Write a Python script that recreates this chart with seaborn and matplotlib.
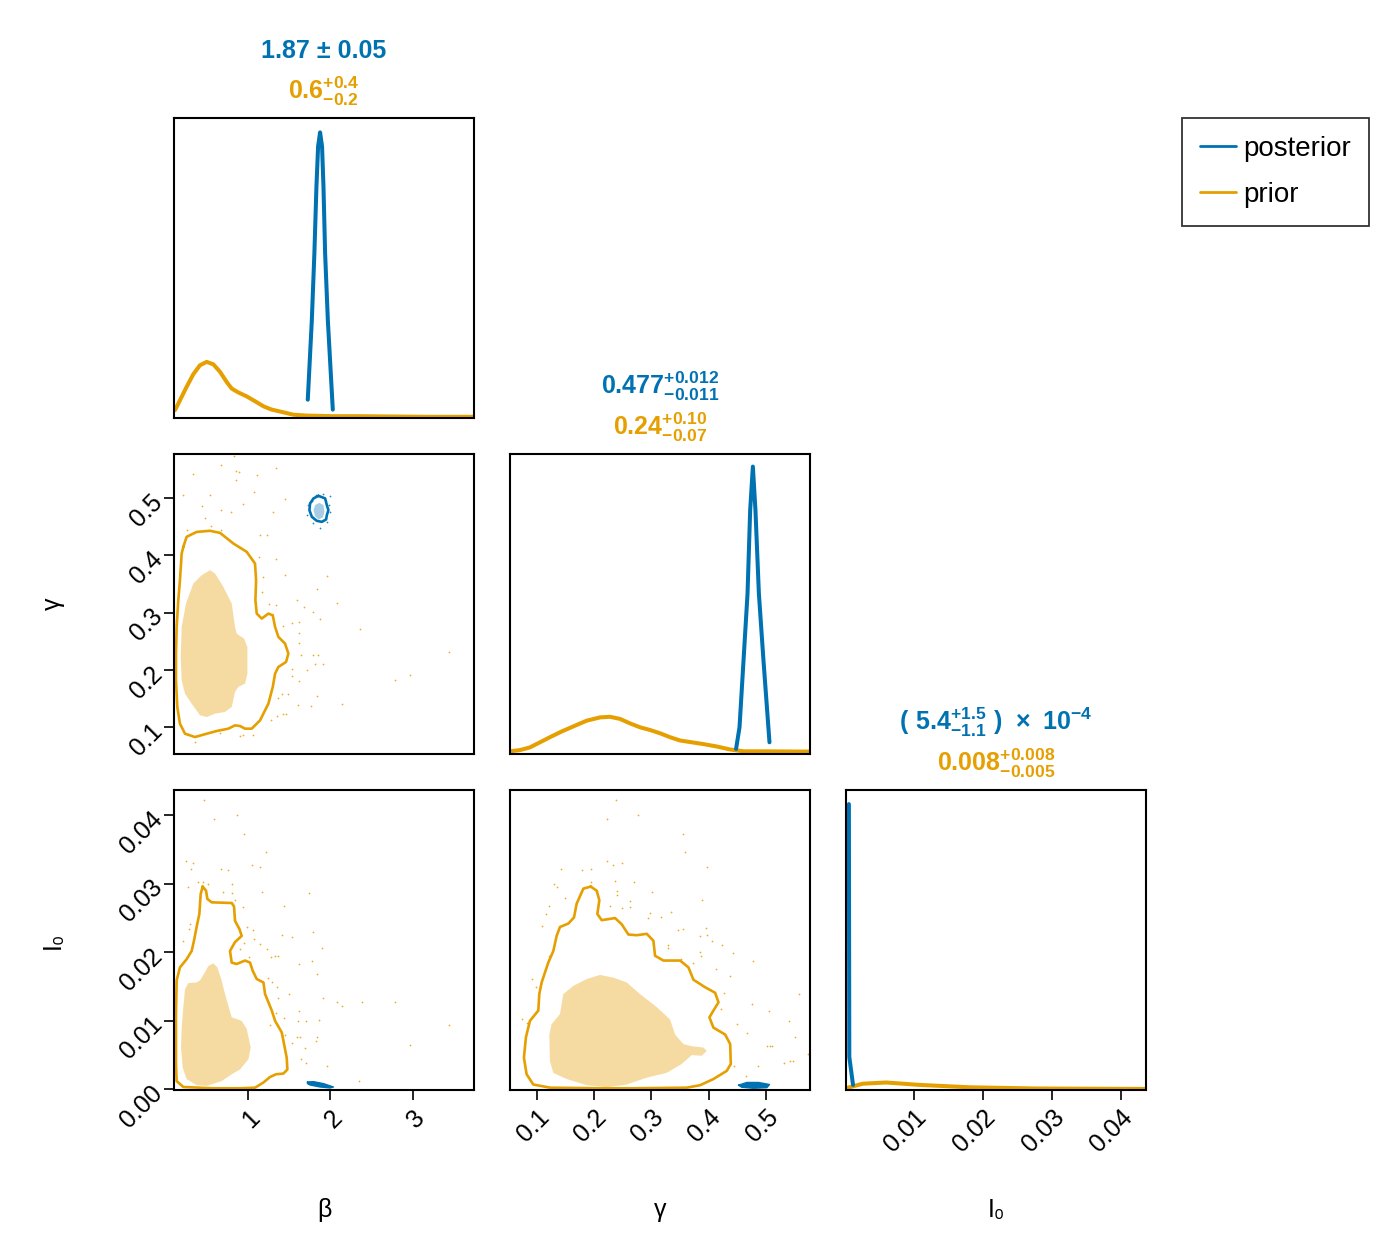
import matplotlib
matplotlib.use("Agg")
import matplotlib.pyplot as plt
from matplotlib.lines import Line2D
import seaborn as sns

BLUE = "#0072B2"
ORANGE = "#E69F00"

series_names = ["posterior", "prior"]
param_labels = ["β", "γ", "I₀"]

beta_ticks = [1, 2, 3]
gamma_ticks = [0.1, 0.2, 0.3, 0.4, 0.5]
i0_ticks_x = [0.01, 0.02, 0.03, 0.04]
i0_ticks_y = [0.00, 0.01, 0.02, 0.03, 0.04]

# --- 1D marginals (height = fraction of panel height) ---
beta_post_x = [1.727, 1.776, 1.807, 1.832, 1.852, 1.876, 1.900, 1.917, 1.937, 1.970, 2.030]
beta_post_d = [0.061, 0.326, 0.549, 0.772, 0.905, 0.952, 0.905, 0.772, 0.549, 0.326, 0.028]
beta_prior_x = [0.119, 0.179, 0.260, 0.341, 0.422, 0.503, 0.583, 0.664, 0.745, 0.806, 0.887, 0.988, 1.088, 1.190,
                1.290, 1.432, 1.553, 1.715, 2.038, 2.361, 3.169, 3.735]
beta_prior_d = [0.026, 0.059, 0.104, 0.146, 0.176, 0.187, 0.179, 0.154, 0.120, 0.098, 0.085, 0.072, 0.056, 0.039,
                0.028, 0.019, 0.011, 0.008, 0.006, 0.006, 0.004, 0.004]

gamma_post_x = [0.448, 0.454, 0.461, 0.468, 0.4726, 0.4773, 0.4818, 0.4878, 0.4958, 0.5063]
gamma_post_d = [0.017, 0.089, 0.312, 0.535, 0.813, 0.958, 0.813, 0.535, 0.312, 0.039]
gamma_prior_x = [0.0534, 0.0708, 0.0883, 0.1058, 0.1232, 0.1436, 0.1640, 0.1873, 0.2106, 0.2281, 0.2455, 0.2630,
                 0.2804, 0.2979, 0.3154, 0.3328, 0.3503, 0.3707, 0.3911, 0.4144, 0.4377, 0.4609, 0.4901, 0.5762]
gamma_prior_d = [0.009, 0.013, 0.022, 0.039, 0.056, 0.075, 0.092, 0.111, 0.122, 0.124, 0.117, 0.102, 0.089, 0.080,
                 0.069, 0.056, 0.045, 0.039, 0.033, 0.025, 0.015, 0.009, 0.009, 0.008]

i0_post_x = [0.00056, 0.00059, 0.00062, 0.00116]
i0_post_d = [0.953, 0.50, 0.11, 0.017]
i0_prior_x = [0.00016, 0.00257, 0.00597, 0.0108, 0.0181, 0.0278, 0.0437]
i0_prior_d = [0.006, 0.021, 0.025, 0.017, 0.009, 0.005, 0.0035]

# --- beta vs gamma ---
bg_prior_line_x = [0.220, 0.260, 0.381, 0.543, 0.664, 0.826, 0.987, 1.088, 1.101, 1.093, 1.109, 1.169, 1.250, 1.303,
                   1.331, 1.371, 1.452, 1.492, 1.464, 1.371, 1.331, 1.303, 1.250, 1.149, 1.048, 0.967, 0.907, 0.846,
                   0.765, 0.624, 0.503, 0.361, 0.240, 0.179, 0.147, 0.131, 0.131, 0.139, 0.159, 0.179, 0.200]
bg_prior_line_y = [0.415, 0.4325, 0.441, 0.443, 0.4394, 0.4208, 0.4063, 0.3859, 0.3568, 0.3218, 0.2985, 0.2898, 0.2985,
                   0.2956, 0.2753, 0.2578, 0.2461, 0.2287, 0.2141, 0.2054, 0.1937, 0.1705, 0.1413, 0.1122, 0.0977,
                   0.0977, 0.1023, 0.1035, 0.0977, 0.0936, 0.0889, 0.0831, 0.0889, 0.1064, 0.1355, 0.1821, 0.2287,
                   0.2753, 0.3218, 0.3568, 0.4033]
bg_prior_fill_x = [0.543, 0.604, 0.705, 0.806, 0.846, 0.866, 0.955, 0.996, 0.996, 0.967, 0.886, 0.846, 0.806, 0.725,
                   0.604, 0.503, 0.422, 0.321, 0.240, 0.200, 0.188, 0.200, 0.252, 0.341, 0.442]
bg_prior_fill_y = [0.3742, 0.3684, 0.3451, 0.316, 0.2753, 0.2636, 0.2549, 0.2403, 0.1937, 0.1763, 0.1705, 0.1617,
                   0.1355, 0.1268, 0.1239, 0.118, 0.121, 0.1413, 0.1588, 0.1821, 0.2229, 0.2753, 0.316, 0.3509, 0.3655]
bg_post_line_x = [1.856, 1.937, 1.958, 1.977, 1.958, 1.949, 1.897, 1.836, 1.776, 1.747, 1.755, 1.796]
bg_post_line_y = [0.504, 0.4995, 0.4878, 0.479, 0.4703, 0.4628, 0.4586, 0.4604, 0.4674, 0.479, 0.4907, 0.4995]
bg_post_fill_x = [1.868, 1.917, 1.929, 1.909, 1.856, 1.816, 1.796, 1.816]
bg_post_fill_y = [0.4918, 0.4878, 0.476, 0.4663, 0.4628, 0.4686, 0.479, 0.4878]
bg_post_pts_x = [1.735, 1.776, 1.824, 1.917, 1.998, 1.990, 1.998, 1.958, 1.876, 1.796, 1.723]
bg_post_pts_y = [0.4878, 0.4953, 0.5052, 0.507, 0.5035, 0.4878, 0.476, 0.4586, 0.447, 0.4558, 0.4703]
bg_prior_pts_x = [0.834, 0.672, 0.333, 0.858, 0.899, 1.109, 1.339, 0.854, 0.220, 0.543, 1.076, 1.448, 0.450, 0.680,
                  0.939, 0.794, 1.311, 0.486, 0.555, 0.672, 0.268, 1.149, 1.230, 1.141, 1.339, 1.190, 1.452, 1.957,
                  1.844, 1.178, 1.262, 1.339, 1.594, 1.682, 1.787, 2.078, 1.876, 1.533, 1.626, 1.424, 2.361, 1.618,
                  1.618, 1.642, 1.796, 1.856, 1.816, 1.909, 1.533, 1.715, 1.537, 1.626, 3.440, 2.967, 2.781, 1.412,
                  1.485, 1.364, 1.844, 2.139, 1.606, 1.767, 1.359, 1.424, 1.460, 1.279, 0.907, 1.068, 0.947, 0.361,
                  0.664]
bg_prior_pts_y = [0.573, 0.558, 0.542, 0.547, 0.545, 0.540, 0.552, 0.531, 0.505, 0.506, 0.510, 0.498, 0.486, 0.479,
                  0.489, 0.476, 0.475, 0.466, 0.452, 0.444, 0.444, 0.4365, 0.4365, 0.3975, 0.3946, 0.3626, 0.3667,
                  0.3644, 0.3422, 0.3364, 0.3148, 0.3143, 0.3218, 0.3101, 0.3013, 0.3171, 0.2886, 0.2822, 0.284,
                  0.2764, 0.2717, 0.2648, 0.2479, 0.2269, 0.2269, 0.2258, 0.210, 0.210, 0.2024, 0.2007, 0.189, 0.1808,
                  0.231, 0.1921, 0.1833, 0.1576, 0.1576, 0.1512, 0.1553, 0.1413, 0.1395, 0.1366, 0.1192, 0.1227,
                  0.1239, 0.1121, 0.0843, 0.0860, 0.0860, 0.0743, 0.0901]

# --- beta vs I0 ---
bi_prior_line_x = [0.454, 0.495, 0.511, 0.563, 0.806, 0.834, 0.846, 0.899, 0.927, 0.846, 0.785, 0.806, 0.866, 0.967,
                   1.028, 1.060, 1.109, 1.190, 1.210, 1.291, 1.331, 1.412, 1.440, 1.472, 1.480, 1.432, 1.343, 1.270,
                   1.190, 1.089, 0.907, 0.584, 0.220, 0.139, 0.131, 0.131, 0.139, 0.179, 0.260, 0.321, 0.349, 0.381,
                   0.414, 0.430]
bi_prior_line_y = [0.0296, 0.0290, 0.0278, 0.0273, 0.0272, 0.0267, 0.0246, 0.0234, 0.0224, 0.0215, 0.0202, 0.0185,
                   0.0183, 0.0188, 0.0185, 0.0173, 0.0161, 0.0156, 0.0139, 0.0115, 0.0100, 0.0083, 0.0066, 0.0046,
                   0.0029, 0.0023, 0.0022, 0.0018, 0.0010, 0.00024, 0.00015, 0.00015, 0.00034, 0.0012, 0.0037, 0.0110,
                   0.0159, 0.0178, 0.0190, 0.0202, 0.0217, 0.0237, 0.0256, 0.0285]
bi_prior_fill_x = [0.583, 0.632, 0.684, 0.725, 0.806, 0.927, 0.988, 1.036, 1.008, 0.907, 0.806, 0.685, 0.503, 0.381,
                   0.260, 0.212, 0.192, 0.200, 0.220, 0.240, 0.280, 0.381, 0.422, 0.482, 0.523]
bi_prior_fill_y = [0.0184, 0.0178, 0.0159, 0.0139, 0.0105, 0.0100, 0.0088, 0.0061, 0.0044, 0.0029, 0.0022, 0.0012,
                   0.0005, 0.0006, 0.0015, 0.0032, 0.0061, 0.0090, 0.0120, 0.0146, 0.0155, 0.0156, 0.0159, 0.0171,
                   0.0180]
bi_post_x = [1.723, 1.796, 1.917, 2.038, 1.998, 1.877, 1.756, 1.723]
bi_post_y = [0.00107, 0.00112, 0.00083, 0.00034, 0.0002, 0.00034, 0.00063, 0.00083]
bi_prior_pts_x = [0.470, 0.596, 0.874, 0.959, 1.222, 0.252, 0.333, 0.309, 1.056, 1.149, 0.672, 0.765, 0.806, 0.402,
                  0.280, 0.462, 0.523, 0.705, 0.806, 1.177, 1.743, 0.846, 0.947, 1.440, 0.301, 0.293, 0.212, 0.988,
                  1.060, 1.076, 1.149, 1.230, 1.412, 1.533, 1.796, 0.959, 1.331, 1.278, 1.371, 1.622, 1.775, 1.905,
                  0.907, 1.020, 1.250, 1.291, 1.351, 1.367, 1.497, 1.844, 1.909, 2.078, 2.139, 2.381, 2.781, 3.432,
                  2.967, 2.353, 1.957, 1.868, 1.707, 1.614, 1.533, 1.452, 1.634, 1.844, 1.828, 1.691, 1.650, 1.703,
                  1.626, 1.271, 1.339, 1.444, 1.602]
bi_prior_pts_y = [0.0422, 0.0394, 0.0401, 0.0373, 0.0346, 0.0334, 0.0330, 0.0322, 0.0327, 0.0324, 0.0322, 0.0320,
                  0.0300, 0.0302, 0.0296, 0.0303, 0.0300, 0.0288, 0.0287, 0.0288, 0.0287, 0.0277, 0.0266, 0.0268,
                  0.0242, 0.0234, 0.0217, 0.0237, 0.0233, 0.0220, 0.0212, 0.0205, 0.0226, 0.0223, 0.0229, 0.0214,
                  0.0195, 0.0193, 0.0195, 0.0183, 0.0188, 0.0207, 0.0205, 0.0193, 0.0163, 0.0156, 0.0149, 0.0134,
                  0.0139, 0.0168, 0.0134, 0.0128, 0.0122, 0.0128, 0.0128, 0.0094, 0.0065, 0.0012, 0.0034, 0.0101,
                  0.0100, 0.0100, 0.0068, 0.0080, 0.0076, 0.0076, 0.0071, 0.0060, 0.0044, 0.0039, 0.0115, 0.0094,
                  0.0112, 0.0104, 0.0076]

# --- gamma vs I0 ---
gi_prior_line_x = [0.1943, 0.2048, 0.2094, 0.2059, 0.2135, 0.2368, 0.2484, 0.2601, 0.2746, 0.2921, 0.3037, 0.3066,
                   0.3212, 0.3503, 0.3649, 0.3736, 0.3940, 0.4114, 0.4173, 0.4085, 0.4015, 0.4085, 0.4289, 0.4377,
                   0.4388, 0.4318, 0.4085, 0.3852, 0.3620, 0.2688, 0.2106, 0.1232, 0.0941, 0.0825, 0.0778, 0.0813,
                   0.0883, 0.1029, 0.1046, 0.1087, 0.1203, 0.1291, 0.1349, 0.1407, 0.1553, 0.1652, 0.1698, 0.1815]
gi_prior_line_y = [0.0296, 0.0290, 0.0276, 0.0256, 0.0247, 0.0250, 0.0241, 0.0226, 0.0225, 0.0227, 0.0217, 0.0195,
                   0.0188, 0.0188, 0.0178, 0.0160, 0.0149, 0.0141, 0.0127, 0.0115, 0.0105, 0.0090, 0.0080, 0.0066,
                   0.0037, 0.0027, 0.0015, 0.0006, 0.00024, 0.00015, 0.00015, 0.00024, 0.0007, 0.0022, 0.0046, 0.0076,
                   0.0100, 0.0115, 0.0139, 0.0156, 0.0185, 0.0202, 0.0224, 0.0237, 0.0242, 0.0251, 0.0271, 0.0293]
gi_prior_fill_x = [0.2106, 0.2339, 0.2572, 0.2804, 0.3096, 0.3328, 0.3416, 0.3561, 0.3707, 0.3911, 0.3969, 0.3882,
                   0.3707, 0.3532, 0.3270, 0.2921, 0.2572, 0.2222, 0.1873, 0.1524, 0.1291, 0.1232, 0.1221, 0.1261,
                   0.1407, 0.1465, 0.1640, 0.1873]
gi_prior_fill_y = [0.0167, 0.0163, 0.0156, 0.0139, 0.0120, 0.0102, 0.0080, 0.0066, 0.0063, 0.0061, 0.0056, 0.0049,
                   0.0050, 0.0037, 0.0024, 0.0017, 0.0007, 0.0003, 0.0006, 0.0015, 0.0024, 0.0041, 0.0080, 0.0095,
                   0.0110, 0.0139, 0.0151, 0.0161]
gi_post_x = [0.4522, 0.4668, 0.4871, 0.5064, 0.5017, 0.4784, 0.4580]
gi_post_y = [0.0006, 0.0010, 0.0010, 0.0007, 0.00024, 0.00015, 0.0003]
gi_prior_pts_x = [0.2385, 0.2775, 0.2234, 0.3550, 0.3590, 0.1425, 0.1786, 0.1943, 0.2222, 0.2339, 0.2484, 0.1302,
                  0.1360, 0.1943, 0.2368, 0.2705, 0.3008, 0.1494, 0.2397, 0.2409, 0.2630, 0.2630, 0.2484, 0.2281,
                  0.1221, 0.1163, 0.1087, 0.2979, 0.2950, 0.3171, 0.3340, 0.3474, 0.3561, 0.3882, 0.3980, 0.3957,
                  0.3969, 0.3852, 0.4068, 0.4231, 0.3288, 0.3288, 0.3852, 0.3864, 0.4435, 0.4784, 0.3736, 0.3521,
                  0.4132, 0.4377, 0.0924, 0.0988, 0.0737, 0.0825, 0.4272, 0.4219, 0.4755, 0.4504, 0.4668, 0.5570,
                  0.5046, 0.5395, 0.5512, 0.5017, 0.5064, 0.5104, 0.5320, 0.5424, 0.5471, 0.5727, 0.4860, 0.4447,
                  0.4650, 0.1221]
gi_prior_pts_y = [0.0422, 0.0401, 0.0394, 0.0373, 0.0346, 0.0322, 0.0320, 0.0321, 0.0334, 0.0328, 0.0331, 0.0300,
                  0.0296, 0.0302, 0.0304, 0.0302, 0.0288, 0.0279, 0.0290, 0.0283, 0.0275, 0.0266, 0.0265, 0.0267,
                  0.0268, 0.0256, 0.0239, 0.0257, 0.0250, 0.0252, 0.0259, 0.0233, 0.0234, 0.0276, 0.0324, 0.0236,
                  0.0226, 0.0224, 0.0216, 0.0211, 0.0211, 0.0207, 0.0201, 0.0194, 0.0199, 0.0188, 0.0184, 0.0190,
                  0.0176, 0.0165, 0.0161, 0.0149, 0.0103, 0.0097, 0.0141, 0.0117, 0.0124, 0.0095, 0.0082, 0.0139,
                  0.0115, 0.0100, 0.0076, 0.0063, 0.0063, 0.0063, 0.0038, 0.0042, 0.0041, 0.0051, 0.0034, 0.0034,
                  0.0020, 0.0195]

# summary titles (posterior, prior) above each marginal
titles = [
    ("1.87 ± 0.05", r"$\mathbf{0.6}^{\mathbf{+0.4}}_{\mathbf{-0.2}}$"),
    (r"$\mathbf{0.477}^{\mathbf{+0.012}}_{\mathbf{-0.011}}$", r"$\mathbf{0.24}^{\mathbf{+0.10}}_{\mathbf{-0.07}}$"),
    (r"$\mathbf{(\ 5.4}^{\mathbf{+1.5}}_{\mathbf{-1.1}}\mathbf{\ )\ \times\ 10}^{\mathbf{-4}}$",
     r"$\mathbf{0.008}^{\mathbf{+0.008}}_{\mathbf{-0.005}}$"),
]

sns.set_theme(style="white")
plt.rcParams["font.family"] = ["Liberation Sans", "DejaVu Sans"]
plt.rcParams["mathtext.fontset"] = "custom"
plt.rcParams["mathtext.rm"] = "Liberation Sans"
plt.rcParams["mathtext.bf"] = "Liberation Sans:bold"
plt.rcParams["text.color"] = "black"
plt.rcParams["axes.labelcolor"] = "black"

W, H = 1398, 1256
fig = plt.figure(figsize=(W / 100, H / 100), dpi=100)

col_left = [174, 510, 846]
row_top = [118, 454, 790]
size = 300
axes = {}
for r in range(3):
    for c in range(r + 1):
        axes[r, c] = fig.add_axes([col_left[c] / W, (H - row_top[r] - size) / H, size / W, size / H])

lims = {"beta": (0.107, 3.74), "gamma": (0.0535, 0.577), "i0x": (0.00014, 0.0437), "i0y": (-0.0001, 0.0437)}


def closed(v):
    return list(v) + [v[0]]


def curve(ax, x, y, color, lw):
    sns.lineplot(x=x, y=y, sort=False, estimator=None, color=color, linewidth=lw, ax=ax, legend=False)


def dots(ax, x, y, color):
    sns.scatterplot(x=x, y=y, s=1.6, color=color, alpha=0.85, linewidth=0, ax=ax, legend=False)


LW1 = 2.9
LW2 = 1.9

# diagonals
ax = axes[0, 0]
curve(ax, beta_prior_x, beta_prior_d, ORANGE, LW1)
curve(ax, beta_post_x, beta_post_d, BLUE, LW1)
ax.set_xlim(*lims["beta"])

ax = axes[1, 1]
curve(ax, gamma_prior_x, gamma_prior_d, ORANGE, LW1)
curve(ax, gamma_post_x, gamma_post_d, BLUE, LW1)
ax.set_xlim(*lims["gamma"])

ax = axes[2, 2]
curve(ax, i0_prior_x, i0_prior_d, ORANGE, LW1)
curve(ax, i0_post_x, i0_post_d, BLUE, LW1)
ax.set_xlim(*lims["i0x"])

for i in range(3):
    axes[i, i].set_ylim(0, 1)
    axes[i, i].set_yticks([])

# beta-gamma
ax = axes[1, 0]
dots(ax, bg_prior_pts_x, bg_prior_pts_y, ORANGE)
dots(ax, bg_post_pts_x, bg_post_pts_y, BLUE)
ax.fill(bg_prior_fill_x, bg_prior_fill_y, color=ORANGE, alpha=0.37, lw=0)
curve(ax, closed(bg_prior_line_x), closed(bg_prior_line_y), ORANGE, LW2)
ax.fill(bg_post_fill_x, bg_post_fill_y, color=BLUE, alpha=0.35, lw=0)
curve(ax, closed(bg_post_line_x), closed(bg_post_line_y), BLUE, LW2)
ax.set_xlim(*lims["beta"])
ax.set_ylim(*lims["gamma"])

# beta-I0
ax = axes[2, 0]
dots(ax, bi_prior_pts_x, bi_prior_pts_y, ORANGE)
ax.fill(bi_prior_fill_x, bi_prior_fill_y, color=ORANGE, alpha=0.37, lw=0)
curve(ax, closed(bi_prior_line_x), closed(bi_prior_line_y), ORANGE, LW2)
ax.fill(bi_post_x, bi_post_y, color=BLUE, lw=0)
curve(ax, closed(bi_post_x), closed(bi_post_y), BLUE, 1.0)
ax.set_xlim(*lims["beta"])
ax.set_ylim(*lims["i0y"])

# gamma-I0
ax = axes[2, 1]
dots(ax, gi_prior_pts_x, gi_prior_pts_y, ORANGE)
ax.fill(gi_prior_fill_x, gi_prior_fill_y, color=ORANGE, alpha=0.37, lw=0)
curve(ax, closed(gi_prior_line_x), closed(gi_prior_line_y), ORANGE, LW2)
ax.fill(gi_post_x, gi_post_y, color=BLUE, lw=0)
curve(ax, closed(gi_post_x), closed(gi_post_y), BLUE, 1.0)
ax.set_xlim(*lims["gamma"])
ax.set_ylim(*lims["i0y"])

# frames, ticks, labels
for (r, c), ax in axes.items():
    ax.set_xlabel("")
    ax.set_ylabel("")
    for sp in ax.spines.values():
        sp.set_visible(True)
        sp.set_color("black")
        sp.set_linewidth(1.5)
    ax.tick_params(axis="both", direction="out", length=7, width=1.2, color="black",
                   labelsize=18, labelcolor="black", pad=4, bottom=True, left=True)
    if r < 2:
        ax.set_xticks([])
    if c > 0 and r != c:
        ax.set_yticks([])
    if c == 0 and r == 0:
        ax.set_yticks([])

axes[2, 0].set_xticks(beta_ticks, ["1", "2", "3"])
axes[2, 1].set_xticks(gamma_ticks, [f"{t:.1f}" for t in gamma_ticks])
axes[2, 2].set_xticks(i0_ticks_x, [f"{t:.2f}" for t in i0_ticks_x])
axes[1, 0].set_yticks(gamma_ticks, [f"{t:.1f}" for t in gamma_ticks])
axes[2, 0].set_yticks(i0_ticks_y, [f"{t:.2f}" for t in i0_ticks_y])

for c in range(3):
    ax = axes[2, c]
    plt.setp(ax.get_xticklabels(), rotation=45, ha="right", va="top", rotation_mode="anchor")
    ax.set_xlabel(param_labels[c], fontsize=18)
    ax.xaxis.set_label_coords(0.5, -0.36)
for r in (1, 2):
    ax = axes[r, 0]
    plt.setp(ax.get_yticklabels(), rotation=45, ha="right", va="center", rotation_mode="anchor")
    ax.set_ylabel(param_labels[r], fontsize=18, va="center")
    ax.yaxis.set_label_coords(-0.405, 0.5)

for i in range(3):
    ax = axes[i, i]
    ax.text(0.5, 1.2, titles[i][0], transform=ax.transAxes, ha="center", va="baseline",
            color=BLUE, fontsize=18, fontweight="bold")
    ax.text(0.5, 1.065, titles[i][1], transform=ax.transAxes, ha="center", va="baseline",
            color=ORANGE, fontsize=18, fontweight="bold")

handles = [Line2D([], [], color=BLUE, lw=2.0), Line2D([], [], color=ORANGE, lw=2.0)]
leg = fig.legend(handles, series_names, loc="upper left", bbox_to_anchor=(1182 / W, 1 - 118 / H),
                 frameon=True, fancybox=False, edgecolor="black", fontsize=20, handlelength=1.3,
                 borderpad=0.65, labelspacing=0.72, borderaxespad=0, handletextpad=0.25)
leg.get_frame().set_linewidth(1.3)
for t in leg.get_texts():
    t.set_color("black")

fig.savefig("out.png", dpi=100, facecolor="white")
